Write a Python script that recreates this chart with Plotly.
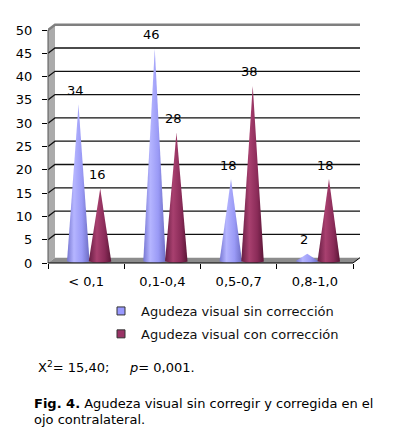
import numpy as np
import plotly.graph_objects as go

# ---------------- data ----------------
categories = ["< 0,1", "0,1-0,4", "0,5-0,7", "0,8-1,0"]
sin_correccion = [34, 46, 18, 2]
con_correccion = [16, 28, 38, 18]
series_names = ["Agudeza visual sin corrección", "Agudeza visual con corrección"]
y_ticks = list(range(0, 51, 5))

# ---------------- layout geometry ----------------
OFF = 8                       # default page body margin
W, H = 399 - OFF, 445 - OFF
L, R, T, B = 48 - OFF, 37, 22 - OFF, 182
PX_X = 76.25          # pixels per category
PX_Y = 4.66           # pixels per value unit
plot_w = W - L - R
plot_h = H - T - B
x_max = plot_w / PX_X
y_max = plot_h / PX_Y
DX = 7 / PX_X         # 3D depth shift
DY = 5.3 / PX_Y
n = len(categories)
y_top = y_ticks[-1]

offsets = [0.40, 0.685]
half_w = 0.15
base_y = 0.45
base_ry = 0.42

FONT = "DejaVu Sans"
blue_scale = [[0, "#7676d2"], [0.3, "#b5b5ff"], [0.65, "#9a9af6"], [1, "#6a6ac0"]]
red_scale = [[0, "#661d42"], [0.35, "#a8406f"], [0.7, "#8a2b58"], [1, "#581535"]]
swatch = ["#9999ff", "#993366"]
scales = [blue_scale, red_scale]


def px_to_paper_x(px):
    # px given in page coordinates
    return (px - OFF - L) / plot_w


def px_to_paper_y(py):
    return (H - B - (py - OFF)) / plot_h


fig = go.Figure()

series = [sin_correccion, con_correccion]
t = np.linspace(0, np.pi, 25)
for s, vals in enumerate(series):
    for j, v in enumerate(vals):
        cx = j + offsets[s]
        xs = [cx] + list(cx + half_w * np.cos(t)) + [cx]
        ys = [v] + list(base_y - base_ry * np.sin(t)) + [v]
        fig.add_trace(go.Scatter(
            x=xs, y=ys, mode="lines", fill="toself",
            line=dict(width=0, color=swatch[s]),
            fillgradient=dict(type="horizontal", colorscale=scales[s],
                              start=cx - half_w, stop=cx + half_w),
            hoverinfo="skip", showlegend=False,
        ))
        fig.add_annotation(x=cx, y=v, text=str(v), showarrow=False,
                           yshift=14, xshift=-3,
                           font=dict(family=FONT, size=13, color="#000"))

# legend entries
for s in range(2):
    fig.add_trace(go.Scatter(
        x=[None], y=[None], mode="markers", name=series_names[s],
        legendgroup=str(s),
        marker=dict(symbol="square", size=8, color=swatch[s],
                    line=dict(width=1, color="#333")),
    ))

shapes = []
# left wall
shapes.append(dict(type="path", xref="x", yref="y", layer="below",
                   path=f"M 0,0 L 0,{y_top} L {DX},{y_top + DY} L {DX},{DY} Z",
                   fillcolor="#ababab", line=dict(width=0)))
# floor
shapes.append(dict(type="path", xref="x", yref="y", layer="below",
                   path=f"M 0,0 L {n},0 L {n + DX},{DY} L {DX},{DY} Z",
                   fillcolor="#8c8c8c", line=dict(width=0)))
# gridlines on back wall (with diagonal on left wall)
for v in y_ticks[1:]:
    top = v == y_top
    shapes.append(dict(type="path", xref="x", yref="y", layer="below",
                       path=f"M 0,{v} L {DX},{v + DY} L {n + DX},{v + DY}",
                       line=dict(width=2.5 if top else 1.3,
                                 color="#7f7f7f" if top else "#111111")))
# front left edge
shapes.append(dict(type="line", xref="paper", yref="y", x0=0, x1=0, y0=0, y1=y_top,
                   line=dict(width=1, color="#555")))
# front bottom edge
shapes.append(dict(type="line", xref="x", yref="paper", x0=0, x1=n, y0=0, y1=0,
                   line=dict(width=1, color="#000")))
# right floor edge
shapes.append(dict(type="line", xref="x", yref="y", x0=n, x1=n + DX, y0=0, y1=DY,
                   line=dict(width=1, color="#000")))

fig.add_annotation(xref="paper", yref="paper", x=px_to_paper_x(36), y=px_to_paper_y(367),
                   xanchor="left", yanchor="middle", showarrow=False,
                   text="X<sup>2</sup>=\u00a015,40;\u00a0\u00a0\u00a0\u00a0\u00a0<i>p</i>=\u00a00,001.",
                   font=dict(family=FONT, size=13, color="#000"))
fig.add_annotation(xref="paper", yref="paper", x=px_to_paper_x(32), y=px_to_paper_y(403),
                   xanchor="left", yanchor="middle", showarrow=False, align="left",
                   text="<b>Fig. 4.</b> Agudeza visual sin corregir y corregida en el",
                   font=dict(family=FONT, size=13, color="#000"))
fig.add_annotation(xref="paper", yref="paper", x=px_to_paper_x(32), y=px_to_paper_y(419),
                   xanchor="left", yanchor="middle", showarrow=False, align="left",
                   text="ojo contralateral.",
                   font=dict(family=FONT, size=13, color="#000"))

fig.update_layout(
    width=W, height=H,
    margin=dict(l=L, r=R, t=T, b=B, autoexpand=False),
    paper_bgcolor="white", plot_bgcolor="white",
    font=dict(family=FONT, size=13, color="#000"),
    shapes=shapes,
    showlegend=True,
    legend=dict(x=px_to_paper_x(101), y=px_to_paper_y(296), xanchor="left", yanchor="top",
                bgcolor="rgba(0,0,0,0)", tracegroupgap=3,
                font=dict(family=FONT, size=13, color="#111")),
    xaxis=dict(range=[0, x_max], showgrid=False, zeroline=False, showline=False,
               tickmode="array", tickvals=[j + 0.5 for j in range(n)], ticktext=categories,
               ticks="", automargin=False, fixedrange=True, ticklabelstandoff=9,
               minor=dict(tickmode="array", tickvals=list(range(n + 1)), ticks="outside",
                          ticklen=5, tickcolor="#000", tickwidth=1, showgrid=False)),
    yaxis=dict(range=[0, y_max], showgrid=False, zeroline=False, showline=False,
               tickmode="array", tickvals=y_ticks, ticks="outside", ticklen=5,
               tickcolor="#000", tickwidth=1, automargin=False, fixedrange=True,
               ticklabelstandoff=7),
)

fig.write_html("out.html")
